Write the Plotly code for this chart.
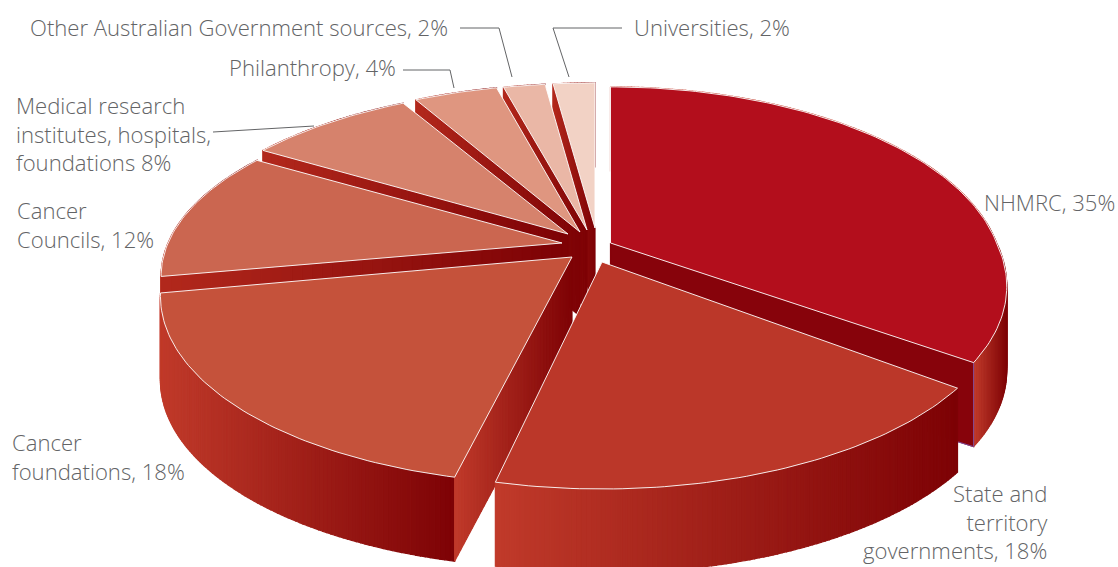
import math
import plotly.graph_objects as go

# ---- data ----
categories = ["NHMRC", "State and territory governments", "Cancer foundations", "Cancer Councils",
              "Medical research institutes, hospitals, foundations", "Philanthropy",
              "Other Australian Government sources", "Universities"]
shares = [35, 18, 18, 12, 8, 4, 2, 2]
top_colours = ["#b30e1c", "#bb3729", "#c5523b", "#cb6650", "#d6826c", "#df9680", "#eab7a6", "#f2d2c5"]
label_texts = ["NHMRC, 35%", "State and<br>territory<br>governments, 18%", "Cancer<br>foundations, 18%",
               "Cancer<br>Councils, 12%", "Medical research<br>institutes, hospitals,<br>foundations 8%",
               "Philanthropy, 4%", "Other Australian Government sources, 2%", "Universities, 2%"]

# ---- drawing geometry (projection of the pie, not data) ----
B, P, DEPTH = 185, 0.185, 84
BASE_A = 392
apexes = [(610.5, 243), (602, 262), (572, 257), (562, 243), (568, 234), (580, 232), (587, 230), (595, 228)]
x_scale = [0.985, 1.012, 1.028, 1.005, 1.005, 1.0, 1.0, 1.0]
y_scale = [1.0, 1.0, 1.0, 0.93, 0.94, 0.95, 0.94, 0.93]
x_shear = [0.085, 0.0, -0.041, 0.0, 0.0, 0.0, 0.0, 0.0]
start_warp = [0, 0, 0, 1, 0, 0, 0, 0]
end_warp = [-2, 0, 1, 0, 0, 0, 0, 0]
draw_order = [7, 6, 5, 4, 3, 0, 2, 1]
TEXT = "#636466"
DARK = (125, 2, 5)
LIGHT = (192, 58, 42)

total = sum(shares)
edges = [0.0]
for s in shares:
    edges.append(edges[-1] + s / total * 360)


def project(i, deg):
    ap = apexes[i]
    t = math.radians(deg)
    d = 1 + P * math.cos(t)
    bx = BASE_A * math.sin(t) / d
    by = -B * math.cos(t) / d
    return ap[0] + x_scale[i] * bx + x_shear[i] * max(by, 0), ap[1] + y_scale[i] * by


def span(i):
    return edges[i] + start_warp[i], edges[i + 1] + end_warp[i]


def mix(c0, c1, f):
    f = max(0, min(1, f))
    return "rgb(%d,%d,%d)" % tuple(round(a + (b - a) * f) for a, b in zip(c0, c1))


fig = go.Figure()


def poly(xs, ys, fill, line=None, width=1.2):
    fig.add_trace(go.Scatter(x=list(xs) + [xs[0]], y=list(ys) + [ys[0]], mode="lines", fill="toself",
                             fillcolor=fill, line=dict(color=line or fill, width=width),
                             hoverinfo="skip", showlegend=False))


def radial_face(i, deg, flat=None, light=LIGHT):
    ap = apexes[i]
    ex, ey = project(i, deg)
    n = 1 if flat else 40
    x0, x1 = min(ap[0], ex), max(ap[0], ex)
    for k in range(n):
        ax = ap[0] + (ex - ap[0]) * k / n
        ay = ap[1] + (ey - ap[1]) * k / n
        bx = ap[0] + (ex - ap[0]) * (k + 1) / n
        by = ap[1] + (ey - ap[1]) * (k + 1) / n
        col = flat or mix(light, DARK, ((ax + bx) / 2 - x0) / (x1 - x0 + 1e-6))
        poly([ax, bx, bx, ax], [ay, by, by + DEPTH, ay + DEPTH], col)


def arc_side(i):
    a0, a1 = span(i)
    n = max(3, int((a1 - a0) / 0.6))
    angs = [a0 + (a1 - a0) * k / n for k in range(n + 1)]
    pts = [project(i, a) for a in angs]
    if i == 0:  # only the front part, right of the corner, shows the shading
        x0, x1 = pts[-1][0], max(p[0] for p in pts)
    else:
        x0, x1 = min(p[0] for p in pts), max(p[0] for p in pts)
    for k in range(n):
        (ax, ay), (bx, by) = pts[k], pts[k + 1]
        col = mix(LIGHT, DARK, ((ax + bx) / 2 - x0) / (x1 - x0))
        poly([ax, bx, bx, ax], [ay, by, by + DEPTH, ay + DEPTH], col)


def top(i):
    a0, a1 = span(i)
    n = max(4, int((a1 - a0) / 1))
    pts = [project(i, a0 + (a1 - a0) * k / n) for k in range(n + 1)]
    poly([apexes[i][0]] + [p[0] for p in pts], [apexes[i][1]] + [p[1] for p in pts],
         top_colours[i], line="rgba(255,255,255,0.9)", width=1)


for i in draw_order:
    if i == 0:
        radial_face(i, span(0)[1], flat="#87030b")
        arc_side(i)
        cx, cy = project(0, span(0)[1])
        fig.add_trace(go.Scatter(x=[cx, cx, cx - 20], y=[cy, cy + DEPTH, cy + DEPTH - 6], mode="lines",
                                 line=dict(color="#7d4a9c", width=1), hoverinfo="skip", showlegend=False))
    elif i == 1:
        arc_side(i)
    elif i == 2:
        arc_side(i)
        radial_face(i, span(2)[0])
    else:
        arc_side(i)
        radial_face(i, span(i)[0], light=(178, 40, 28))
    top(i)

label_pos = [(1115, 202, "right"), (1048, 521, "right"), (12, 456, "left"), (17, 224, "left"),
             (16, 133.5, "left"), (396, 67, "right"), (448, 27, "right"), (634, 27, "left")]
annotations = []
for txt, (x, y, anc) in zip(label_texts, label_pos):
    annotations.append(dict(x=x, y=y, xref="x", yref="y", text=txt, showarrow=False, xanchor=anc, yanchor="middle",
                            align=anc, borderpad=0, borderwidth=0,
                            font=dict(family="Open Sans", size=22.1, color=TEXT, weight=300)))

leaders = [[(622, 28), (553, 28), (569, 77)], [(460, 28), (499, 28), (512, 77)],
           [(403, 70), (450, 70), (454, 88)], [(213, 132), (314, 126)]]
shapes = []
for pl in leaders:
    for (x0, y0), (x1, y1) in zip(pl, pl[1:]):
        shapes.append(dict(type="line", xref="x", yref="y", x0=x0, y0=y0, x1=x1, y1=y1,
                           line=dict(color=TEXT, width=1)))

fig.update_layout(width=1118, height=567, margin=dict(l=0, r=0, t=0, b=0), autosize=False,
                  paper_bgcolor="white", plot_bgcolor="white", showlegend=False,
                  xaxis=dict(range=[0, 1118], visible=False, fixedrange=True),
                  yaxis=dict(range=[567, 0], visible=False, fixedrange=True),
                  annotations=annotations, shapes=shapes)
fig.write_html("out.html", config=dict(displayModeBar=False),
               post_script="document.body.style.margin='0';document.documentElement.style.overflow='hidden';")
